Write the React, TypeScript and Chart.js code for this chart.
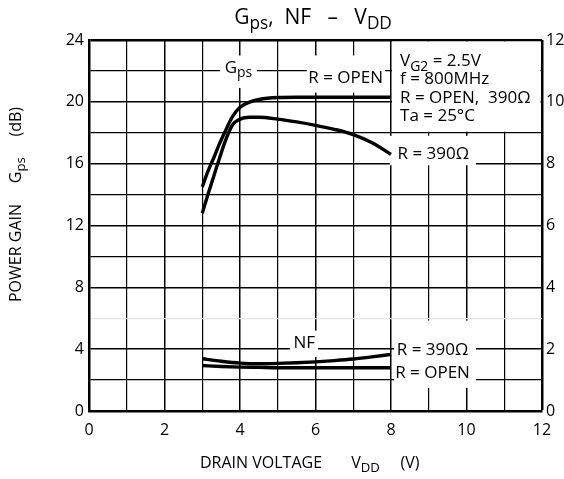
import React, { useEffect, useRef } from 'react';
import { Chart, registerables } from 'chart.js';
Chart.register(...registerables);

// Power gain Gps (dB, left axis) vs drain voltage VDD (V)
const gpsVdd = [3, 3.15, 3.3, 3.45, 3.6, 3.8, 4, 4.25, 4.5, 5, 5.5, 6, 6.5, 7, 7.5, 8];
const gpsOpen = [14.5, 15.5, 16.35, 17.25, 18.05, 19.05, 19.65, 19.98, 20.15, 20.28, 20.3, 20.3, 20.3, 20.3, 20.3, 20.3];
const gps390 = [12.8, 14.0, 15.15, 16.3, 17.4, 18.5, 18.88, 19.0, 19.0, 18.88, 18.7, 18.48, 18.22, 17.88, 17.35, 16.6];

// Noise figure NF (dB, right axis) vs VDD
const nfVdd = [3, 3.5, 4, 4.5, 5, 5.5, 6, 6.5, 7, 7.5, 8];
const nf390 = [1.69, 1.61, 1.55, 1.53, 1.54, 1.56, 1.59, 1.63, 1.68, 1.75, 1.83];
const nfOpen = [1.47, 1.44, 1.42, 1.41, 1.40, 1.40, 1.40, 1.40, 1.40, 1.40, 1.40];

const infoLines = [
  [['V', false], ['G2', true], [' = 2.5V', false]],
  [['f = 800MHz', false]],
  [['R = OPEN,  390Ω', false]],
  [['Ta = 25°C', false]],
];

const FONT = '"Open Sans", "DejaVu Sans", sans-serif';

type Part = [string, boolean];

function drawRich(ctx: CanvasRenderingContext2D, parts: Part[], x: number, y: number, size: number, align: 'left' | 'center') {
  const subSize = size * 0.82;
  let total = 0;
  const widths: number[] = [];
  for (const [t, sub] of parts) {
    ctx.font = `${sub ? subSize : size}px ${FONT}`;
    const w = ctx.measureText(t).width;
    widths.push(w);
    total += w;
  }
  let cx = align === 'center' ? x - total / 2 : x;
  ctx.textBaseline = 'middle';
  ctx.textAlign = 'left';
  parts.forEach(([t, sub], i) => {
    ctx.font = `${sub ? subSize : size}px ${FONT}`;
    ctx.fillText(t, cx, sub ? y + size * 0.3 : y);
    cx += widths[i];
  });
}

const annotPlugin = {
  id: 'annot',
  beforeDatasetsDraw(chart: any) {
    const { ctx, scales } = chart;
    const xs = scales.x, ys = scales.y;
    const box = (x0: number, x1: number, y0: number, y1: number) => {
      const px0 = xs.getPixelForValue(x0), px1 = xs.getPixelForValue(x1);
      const py0 = ys.getPixelForValue(y0), py1 = ys.getPixelForValue(y1);
      ctx.fillStyle = '#fff';
      ctx.fillRect(Math.min(px0, px1), Math.min(py0, py1), Math.abs(px1 - px0), Math.abs(py1 - py0));
    };
    ctx.save();
    // info box region
    const ix0 = xs.getPixelForValue(8) + 1, ix1 = xs.getPixelForValue(12) - 1.5;
    const iy0 = ys.getPixelForValue(24) + 1.5, iy1 = ys.getPixelForValue(18) - 1;
    ctx.fillStyle = '#fff';
    ctx.fillRect(ix0, iy0, ix1 - ix0, iy1 - iy0);
    box(3.47, 4.45, 20.9, 23.0);   // Gps label
    box(5.77, 7.84, 20.6, 23.0);   // R = OPEN
    box(7.97, 10.25, 15.9, 17.8);  // R = 390 (Gps)
    box(5.32, 6.07, 3.5, 5.2);     // NF
    box(8.08, 10.25, 1.5, 5.85);   // NF labels
    ctx.restore();
  },
  afterDatasetsDraw(chart: any) {
    const { ctx, scales } = chart;
    const xs = scales.x, ys = scales.y;
    const X = (v: number) => xs.getPixelForValue(v);
    const Y = (v: number) => ys.getPixelForValue(v);
    ctx.save();
    ctx.fillStyle = '#000';
    drawRich(ctx, [['G', false], ['ps', true]], X(3.96), Y(22.2), 17, 'center');
    drawRich(ctx, [['R = OPEN', false]], X(6.8), Y(21.5), 17, 'center');
    drawRich(ctx, [['R = 390Ω', false]], X(9.12), Y(16.6), 17, 'center');
    drawRich(ctx, [['NF', false]], X(5.7), Y(4.4), 17, 'center');
    drawRich(ctx, [['R = 390Ω', false]], X(9.1), Y(3.95), 17, 'center');
    drawRich(ctx, [['R = OPEN', false]], X(9.1), Y(2.45), 17, 'center');
    const infoY = [22.6, 21.45, 20.25, 19.1];
    infoLines.forEach((ln, i) => drawRich(ctx, ln as Part[], X(8.24), Y(infoY[i]), 17, 'left'));
    ctx.restore();
  },
  afterDraw(chart: any) {
    const { ctx } = chart;
    ctx.save();
    ctx.fillStyle = '#000';
    drawRich(ctx, [['G', false], ['ps', true], [',  NF   –   V', false], ['DD', true]], 313, 18, 21, 'center');
    drawRich(ctx, [['DRAIN VOLTAGE       V', false], ['DD', true], ['     (V)', false]], 200, 463, 16, 'left');
    ctx.translate(16, 302);
    ctx.rotate(-Math.PI / 2);
    drawRich(ctx, [['POWER GAIN     G', false], ['ps', true], ['     (dB)', false]], 0, 0, 16, 'left');
    ctx.restore();
  },
};

export default function App() {
  const ref = useRef<HTMLCanvasElement>(null);
  useEffect(() => {
    const toXY = (xs: number[], ys: number[]) => xs.map((x, i) => ({ x, y: ys[i] }));
    const line = (data: any, axis: string) => ({
      data,
      yAxisID: axis,
      borderColor: '#000',
      borderWidth: 3.4,
      pointRadius: 0,
      fill: false,
      cubicInterpolationMode: 'monotone' as const,
    });
    const tickFont = { family: FONT, size: 16 };
    const chart = new Chart(ref.current!, {
      type: 'line',
      data: {
        datasets: [
          line(toXY(gpsVdd, gpsOpen), 'y'),
          line(toXY(gpsVdd, gps390), 'y'),
          line(toXY(nfVdd, nf390), 'y2'),
          line(toXY(nfVdd, nfOpen), 'y2'),
        ],
      },
      options: {
        responsive: false,
        animation: false,
        devicePixelRatio: 1,
        layout: { padding: { top: 40, left: 0, right: 0, bottom: 0 } },
        plugins: { legend: { display: false }, tooltip: { enabled: false }, title: { display: false } },
        scales: {
          x: {
            type: 'linear', min: 0, max: 12,
            ticks: { stepSize: 1, color: '#000', font: tickFont, padding: 10, maxRotation: 0, autoSkip: false,
              callback: (v: any) => (v % 2 === 0 ? String(v) : '') },
            grid: { color: '#000', drawTicks: false,
              lineWidth: (c: any) => (c.tick && (c.tick.value === 12) ? 2.5 : c.tick && c.tick.value % 2 === 0 ? 1.5 : 1.2) },
            border: { display: true, color: '#000', width: 2.5 },
            afterFit: (s: any) => { s.height = 68; },
          },
          y: {
            type: 'linear', position: 'left', min: 0, max: 24,
            ticks: { stepSize: 2, color: '#000', font: tickFont, padding: 5, autoSkip: false,
              callback: (v: any) => (v % 4 === 0 ? String(v) : '') },
            grid: { drawTicks: false,
              color: (c: any) => (c.tick && c.tick.value === 6 ? '#e4e4e4' : '#000'),
              lineWidth: (c: any) => (c.tick && c.tick.value === 24 ? 2.5 : c.tick && c.tick.value % 4 === 0 ? 1.6 : 1.2) },
            border: { display: true, color: '#000', width: 2.5 },
            afterFit: (s: any) => { s.width = 89; },
          },
          y2: {
            type: 'linear', position: 'right', min: 0, max: 12,
            ticks: { stepSize: 2, color: '#000', font: tickFont, padding: 4, autoSkip: false },
            grid: { display: false, drawTicks: false },
            border: { display: false },
            afterFit: (s: any) => { s.width = 22; },
          },
        },
      },
      plugins: [annotPlugin],
    } as any);
    return () => chart.destroy();
  }, []);
  return (
    <div style={{ position: 'absolute', left: 0, top: 0, width: 564, height: 479, background: '#fff' }}>
      <canvas ref={ref} width={564} height={479} />
    </div>
  );
}
